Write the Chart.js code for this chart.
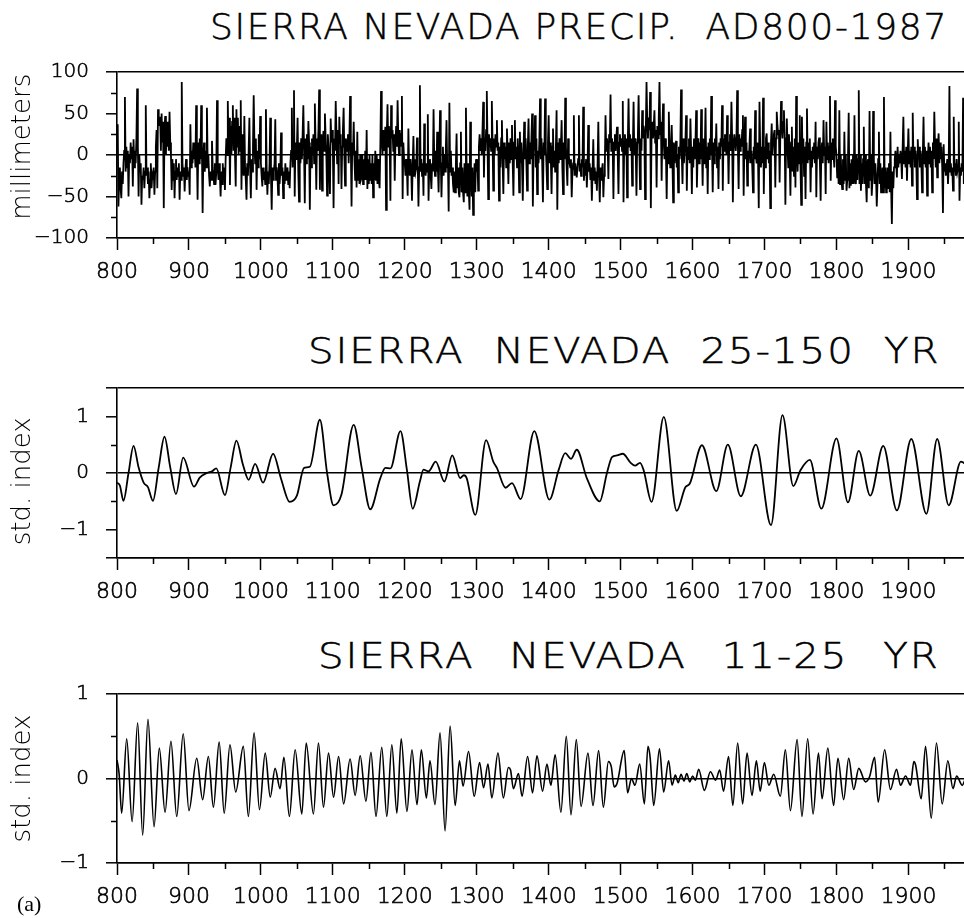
<!DOCTYPE html>
<html>
<head>
<meta charset="utf-8">
<script src="https://cdn.jsdelivr.net/npm/chart.js@4.4.1/dist/chart.umd.min.js"></script>
<style>
html, body { margin: 0; padding: 0; background: #fff; width: 964px; height: 918px; overflow: hidden; }
canvas { position: absolute; left: 0; }
.ttl { position: absolute; font-family: "DejaVu Sans", sans-serif; font-weight: 200; font-size: 36px;
       letter-spacing: 1.7px; white-space: pre; color: #000; -webkit-text-stroke: 0.5px #000;
       transform-origin: 0 0; }
#lab { position: absolute; left: 17px; top: 891px; font-family: "Liberation Serif", serif; font-size: 22px; }
</style>
</head>
<body>
<div class="ttl" style="left:210px; top:6px;">SIERRA NEVADA PRECIP.  AD800-1987</div>
<div class="ttl" style="left:308px; top:330px; word-spacing:13px; transform:scaleX(1.12);">SIERRA NEVADA 25-150 YR</div>
<div class="ttl" style="left:318px; top:635px; word-spacing:18px; transform:scaleX(1.12);">SIERRA NEVADA 11-25 YR</div>

<canvas id="c1" width="975" height="262" style="top:40px; width:975px; height:262px;"></canvas>
<canvas id="c2" width="975" height="266" style="top:356px; width:975px; height:266px;"></canvas>
<canvas id="c3" width="975" height="265" style="top:662px; width:975px; height:265px;"></canvas>
<div id="lab">(a)</div>

<script>
/* ---------- data ---------- */

// annual precipitation departures (mm), one value per year from AD 800
var startYear = 800;
var precip = [
  25, 37, -62, -30, -15, -40, -52, -20, -35, -10,
  5, 70, -20, 10, -15, 5, -50, 0, -10, 15,
  -5, 10, -38, 19, -15, 5, -10, 20, 80, 10,
  -50, 0, -20, -10, -60, -25, -30, -15, -40, -20,
  60, -25, -15, -35, -20, -52, -30, -10, -40, -25,
  -30, -15, -48, -20, 10, 30, -40, 55, 35, 45,
  45, 5, 50, 15, 40, -64, 30, 47, 0, 40,
  10, 40, 5, 52, 15, 0, -42, -5, -30, -10,
  -52, -20, -5, -30, -15, -25, -10, -54, -20, -30,
  88, -10, -25, -15, -44, -20, -5, -30, -15, -25,
  -20, -48, 37, -15, 5, -10, 15, -5, 10, -15,
  60, 5, -54, 15, -10, 20, -5, 60, 10, -70,
  0, 15, -20, 5, -15, 57, -10, 0, -25, -38,
  -20, -30, 17, -15, -25, -35, -10, -36, -20, 66,
  -15, -30, -10, -25, -50, -20, -35, -10, -30, -15,
  -42, -5, 20, 0, 65, 10, 45, -36, 35, 0,
  40, 60, 5, 45, 0, -38, 55, 10, 45, 0,
  35, 5, 66, -42, 25, -10, -25, 47, -15, -30,
  -54, -10, -25, 5, 45, -15, -52, -5, -20, 10,
  72, 15, -10, 20, -42, 5, -15, 25, -5, 47,
  -10, -25, -38, -15, -30, -20, -35, 55, -15, -48,
  -20, -35, -10, 45, -25, -66, -15, -30, -20, -10,
  43, -30, -15, -25, -48, -10, -35, -20, 27, -25,
  -15, -52, -20, -35, -10, -30, -25, -15, -35, -20,
  -40, -10, 5, 57, -15, 10, 78, -50, 15, -5,
  10, 45, -20, -56, 15, -10, 20, -5, 25, 60,
  5, -58, 20, -10, 25, -5, 41, 15, -66, 10,
  -15, 20, 0, 25, -10, 62, 15, -42, 20, 5,
  30, 79, -42, 10, 25, -43, 15, 29, 5, 50,
  20, 0, -49, 25, 10, -15, -47, 44, 15, 30,
  10, -64, 20, 5, 65, 25, -10, 30, -35, 46,
  15, 25, -41, 10, 30, 57, 0, -37, 20, 15,
  5, 25, -10, 20, 71, 10, -62, 15, 0, 40,
  -5, -30, 5, -39, 28, -30, -5, -35, 0, -30,
  -27, 0, -35, -5, -30, 5, -30, 30, -41, -5,
  -35, 0, -30, -10, -35, 0, -51, -10, -30, 5,
  -30, 0, -35, -5, -30, -40, 10, 77, 20, 0,
  30, 5, 20, 34, -66, 25, 61, 10, 35, 15,
  -55, 60, 20, 30, 5, 25, -31, 15, 35, 10,
  66, 20, 0, 30, 10, 25, 71, -53, 15, -5,
  -10, -25, -5, -20, -49, 32, -15, -25, -5, -20,
  -55, -10, 23, -25, -5, -20, -15, 21, -10, -62,
  -15, 84, -20, -5, -25, -10, -49, 38, -15, -25,
  -10, -20, 49, -55, -15, -5, -25, -41, -10, -20,
  55, -10, -25, 5, -20, 28, -15, -45, 0, 54,
  -5, -51, -10, 10, -25, 0, -20, 5, 42, -15,
  -10, -68, 63, -20, 5, -25, -15, -35, -45, -20,
  -45, -10, 26, -40, -15, -45, -51, -10, 28, -45,
  -15, -45, -57, -10, -45, 57, -20, -50, -10, -45,
  -66, 40, -20, -50, -15, -72, -45, -10, -45, -5,
  -20, -5, -43, 10, 25, 5, 20, 0, 30, 64,
  -27, 20, 5, 30, 77, 15, -53, 25, 10, 20,
  5, 65, 15, -43, 20, 0, 25, 10, 42, 5,
  15, -55, 10, -15, 20, 42, -10, -47, 15, -5,
  10, -15, 32, 0, -35, 15, -10, 20, -5, 36,
  -10, -49, 15, 42, -5, 10, -15, 20, 0, -45,
  28, -10, 15, -15, -55, 5, 40, -5, 20, -10,
  -43, 10, 44, -10, 15, -5, 20, 50, -62, 5,
  10, 48, -15, 20, -47, 5, -10, 15, 68, -5,
  20, -10, -57, 15, 0, 68, 10, -15, -41, 15,
  48, -10, 15, -5, -47, 10, 32, -15, 5, -20,
  10, 54, -66, 15, -10, 20, -5, 10, 42, -15,
  -47, 15, -5, 69, 10, -15, -37, 20, 0, -10,
  -15, -5, -51, -20, -10, 48, -25, -10, -20, -27,
  -15, -5, 48, -20, -10, -25, -5, -15, 58, -31,
  -10, -25, -5, -39, -15, 36, -20, -10, -30, -15,
  -55, -20, 19, -30, -15, -35, -20, -43, -10, 40,
  -25, -57, -15, -30, -20, -10, -51, -25, -15, 48,
  5, 20, 10, -29, 25, 15, 73, 5, 20, 10,
  -53, 15, 25, 5, 20, 34, 0, -47, 15, 25,
  10, 20, 5, 65, -57, 15, 25, 0, 20, -51,
  15, 68, 10, 25, 5, 20, -37, 10, 64, 0,
  20, 5, -49, 15, 25, 72, 10, -41, 20, 5,
  54, 20, 35, 25, -53, 30, 88, 40, 20, 45,
  30, 76, -64, 25, 40, 20, 35, 54, 15, 30,
  -39, 35, 20, 45, 88, 25, 40, -31, 30, 62,
  15, -5, 20, 0, -53, 10, -10, 52, 5, -15,
  10, 36, -5, -57, 15, -10, 5, 17, -15, 0,
  -45, 10, -5, 15, 79, 0, -35, 20, -10, 5,
  15, 48, -43, 10, -5, 20, -10, 44, 5, -47,
  10, -15, 20, -5, 15, 54, -39, 0, 20, -10,
  15, -5, 55, 10, -37, 20, -10, 5, 57, -15,
  10, -47, 15, -5, 20, 0, 71, 10, -45, 15,
  -10, 20, 5, 38, -15, 10, -41, 15, -5, 20,
  10, 60, -43, 20, 5, 25, 15, 0, 48, 20,
  -35, 15, 25, 5, 64, 20, -57, 10, 25, 15,
  5, 20, 78, 10, -41, 25, 5, 20, 10, 30,
  48, -49, 10, 46, -5, 15, -37, 5, -10, 10,
  32, -10, 5, -15, -45, 10, -5, 54, 0, -10,
  15, -5, -64, 64, 10, -15, 5, -10, 69, -47,
  10, -15, 20, 26, -5, 15, -10, 5, -64, 15,
  38, 0, 15, 25, 30, -39, 20, 52, 35, 25,
  30, -33, 25, 65, 35, 20, 40, 54, 25, -60,
  20, 44, 10, -15, 25, -5, -49, 15, 34, -20,
  10, -25, 20, -39, 71, 5, -20, 15, -10, 48,
  -15, -60, 46, -10, 20, -25, 10, -53, 15, 56,
  -10, 15, -5, 20, -45, 5, -15, 10, -5, 15,
  -10, 40, -51, 10, -5, 15, 21, -10, -55, 5,
  15, -10, 42, 0, 10, -47, 40, -5, 15, -10,
  10, 71, -31, 15, -5, 20, 0, -15, 66, 10,
  0, -27, -5, -35, 54, -35, 0, -30, -41, -5,
  -35, 28, -30, 0, -43, -30, -5, 51, -40, -10,
  -37, -5, -35, 0, -35, 48, -30, -35, 0, -30,
  -5, 78, -35, 0, -43, -10, -35, -5, 34, -35,
  0, -35, -57, -10, -5, -40, 53, -30, 0, -49,
  -30, 53, -5, -35, -10, -25, -62, -35, -5, 28,
  -35, -10, -45, -27, -15, -45, 70, -40, -15, -45,
  -37, -15, -40, -10, -45, 28, -40, -83, -20, -40,
  -15, -5, 5, -10, -27, 10, -15, 0, -10, 5,
  -5, -29, 10, 46, -10, 5, -15, 10, -31, 0,
  32, -10, 5, -15, 10, -37, 51, -5, 10, -15,
  5, -10, -53, 19, -5, 10, -15, 5, -10, -45,
  0, 46, -10, 10, -15, 5, -49, -5, 15, -10,
  10, -15, 5, -45, 15, -5, 52, 10, -15, 20,
  -27, 10, 26, -10, 15, -5, 10, -15, -70, 13,
  -20, -10, -25, -15, -5, -35, -15, 83, -20, -10,
  -25, -15, -43, 46, -20, -10, -25, -5, -20, -15,
  40, -55, -15, -25, -10, -20, 69, -35, -15, 25,
  -10, -20, 15, -5, -25, 10, -15, 5
];

// 25-150 yr band (std. index): turning points
var lowYears = [800, 804, 809, 816, 823, 830, 837, 843, 850, 858, 866, 874, 882, 892, 907, 915, 925, 932, 938, 950,
  958, 966, 975, 983, 992, 1003, 1017, 1028, 1040, 1050, 1060, 1068, 1082, 1092, 1101, 1112, 1129, 1140, 1152, 1166,
  1173, 1180, 1194, 1203, 1211, 1221, 1226, 1233, 1243, 1255, 1266, 1277, 1282, 1286, 1298, 1313, 1323, 1328, 1340, 1349,
  1361, 1380, 1401, 1414, 1423, 1431, 1439, 1453, 1471, 1481, 1488, 1495, 1503, 1514, 1520, 1527, 1532, 1543, 1560, 1578,
  1590, 1596, 1613, 1633, 1649, 1667, 1688, 1709, 1725, 1740, 1750, 1763, 1779, 1800, 1816, 1831, 1847, 1865, 1884, 1904,
  1925, 1940, 1956, 1973, 1980, 1987];
var lowVals = [-0.17, -0.22, -0.49, 0.0, 0.48, 0.1, -0.17, -0.25, -0.49, 0.1, 0.64, 0.1, -0.37, 0.27, -0.24, -0.08, 0.0, 0.03, 0.08, -0.39,
  0.1, 0.57, 0.15, -0.12, 0.16, -0.17, 0.34, -0.1, -0.51, -0.4, 0.09, 0.11, 0.94, 0.0, -0.57, -0.38, 0.85, 0.1, -0.64, -0.09,
  0.09, 0.08, 0.74, 0.05, -0.63, -0.15, 0.06, 0.03, 0.2, -0.15, 0.31, -0.09, -0.04, -0.09, -0.74, 0.58, 0.2, 0.09, -0.26, -0.18,
  -0.46, 0.74, -0.47, 0.06, 0.35, 0.25, 0.41, -0.09, -0.5, 0.0, 0.28, 0.31, 0.34, 0.18, 0.13, 0.18, 0.05, -0.51, 0.99, -0.67,
  -0.25, -0.19, 0.49, -0.32, 0.5, -0.41, 0.5, -0.92, 1.02, -0.23, 0.05, 0.23, -0.63, 0.61, -0.52, 0.39, -0.4, 0.48, -0.66, 0.6,
  -0.72, 0.6, -0.57, 0.2, 0.15, 0.05];

// 11-25 yr band (std. index): peaks and troughs
var highYears = [800, 803, 806.5, 813.5, 821, 828.7, 835.7, 843, 851.5, 858.8, 866.8, 875, 883, 892, 900, 910.8, 919, 927, 934, 942,
  949, 957, 965, 975.6, 982.6, 990.5, 998, 1006, 1013, 1019.7, 1026.7, 1032, 1039.6, 1047.6, 1056.9, 1063, 1073, 1080, 1087, 1094,
  1101, 1108, 1115, 1124, 1131, 1138, 1146, 1153, 1160, 1168, 1175, 1182, 1189, 1195, 1203, 1210, 1217, 1223, 1230, 1235,
  1242, 1249, 1256, 1263, 1270, 1276, 1281, 1288.6, 1296.5, 1304, 1309.5, 1315.6, 1321, 1329.5, 1337, 1344, 1347, 1351, 1358, 1363,
  1370.7, 1377.6, 1383.7, 1391.5, 1397.6, 1403, 1409, 1417, 1424.5, 1431, 1438.4, 1445, 1454.6, 1461.6, 1469.4, 1476, 1483, 1487, 1491, 1495,
  1505, 1509.7, 1515, 1520, 1526.5, 1533, 1538, 1541, 1546, 1554, 1559.8, 1566.7, 1571.5, 1576, 1580, 1584, 1588, 1592, 1596, 1600,
  1604, 1608.5, 1616.4, 1624.8, 1632, 1637.7, 1643, 1650, 1656, 1662.7, 1669.6, 1675.7, 1682.6, 1688.7, 1694, 1699.8, 1706, 1712.8, 1722, 1729,
  1736, 1745.3, 1752, 1760, 1767.5, 1775, 1780, 1788, 1796, 1802, 1810, 1817, 1824, 1831, 1840.3, 1846, 1853, 1858, 1867, 1875,
  1883.5, 1889, 1896, 1903, 1907.5, 1910, 1917.8, 1923.8, 1931.7, 1939, 1947, 1954.8, 1962, 1967, 1974.8, 1981, 1987];
var highVals = [0.22, 0.05, -0.41, 0.47, -0.51, 0.66, -0.67, 0.7, -0.57, 0.36, -0.4, 0.44, -0.45, 0.53, -0.38, 0.24, -0.25, 0.26, -0.34, 0.43,
  -0.41, 0.4, -0.16, 0.38, -0.45, 0.54, -0.37, 0.3, -0.22, 0.12, -0.12, 0.25, -0.45, 0.34, -0.42, 0.42, -0.42, 0.42, -0.34, 0.3,
  -0.22, 0.26, -0.3, 0.23, -0.2, 0.27, -0.27, 0.31, -0.45, 0.37, -0.45, 0.4, -0.41, 0.47, -0.39, 0.34, -0.31, 0.34, -0.23, 0.21,
  -0.31, 0.54, -0.62, 0.62, -0.32, 0.21, -0.09, 0.32, -0.21, 0.19, -0.11, 0.17, -0.23, 0.3, -0.23, 0.13, 0.1, -0.12, 0.06, -0.21,
  0.26, -0.17, 0.27, -0.15, 0.17, -0.08, 0.28, -0.4, 0.5, -0.43, 0.46, -0.33, 0.3, -0.32, 0.33, -0.34, 0.2, 0.14, -0.1, -0.06,
  0.33, -0.17, 0.0, -0.08, 0.17, -0.3, 0.38, 0.25, -0.32, 0.35, -0.16, 0.21, -0.08, 0.04, -0.05, 0.05, -0.03, 0.06, -0.04, 0.03,
  -0.02, 0.11, -0.14, 0.08, -0.02, 0.1, -0.15, 0.26, -0.32, 0.42, -0.3, 0.3, -0.2, 0.21, -0.15, 0.19, -0.08, 0.05, -0.21, 0.34,
  -0.38, 0.46, -0.45, 0.47, -0.42, 0.3, -0.24, 0.36, -0.32, 0.24, -0.25, 0.24, -0.13, 0.12, -0.04, 0.02, 0.25, -0.28, 0.34, -0.13,
  0.11, -0.08, 0.03, -0.08, 0.2, 0.16, -0.24, 0.38, -0.47, 0.42, -0.3, 0.21, -0.12, 0.03, -0.08, 0.02, -0.05];

// axes
var xTickYears = [800, 900, 1000, 1100, 1200, 1300, 1400, 1500, 1600, 1700, 1800, 1900];
var xMinorYears = [850, 950, 1050, 1150, 1250, 1350, 1450, 1550, 1650, 1750, 1850, 1950];
var p1YTicks = [-100, -50, 0, 50, 100];
var p1YMinor = [-75, -25, 25, 75];
var p2YTicks = [-1.5, -1, 0, 1, 1.5];
var p2YLabels = [-1, 0, 1];
var p2YMinor = [-0.5, 0.5];
var p3YTicks = [-1, 0, 1];
var p3YMinor = [-0.5, 0.5];

/* ---------- drawing ---------- */

// short ticks at the 50-year and half-step marks
var minorTicks = {
  id: 'minorTicks',
  afterDraw: function(chart, args, opts) {
    var ctx = chart.ctx, x = chart.scales.x, y = chart.scales.y;
    ctx.save();
    ctx.strokeStyle = '#000';
    ctx.lineWidth = 1.5;
    ctx.beginPath();
    (opts.x || []).forEach(function(v) {
      var px = Math.round(x.getPixelForValue(v)) + 0.5;
      ctx.moveTo(px, y.bottom); ctx.lineTo(px, y.bottom + 6);
    });
    (opts.y || []).forEach(function(v) {
      var py = Math.round(y.getPixelForValue(v)) + 0.5;
      ctx.moveTo(x.left, py); ctx.lineTo(x.left - 6, py);
    });
    ctx.stroke();
    ctx.restore();
  }
};

function fmt(v) {
  return String(v).replace('-', '\u2212');
}

var xTickFont = { family: 'DejaVu Sans', size: 22, weight: '200' };
var yTickFont = { family: 'DejaVu Sans', size: 20, weight: '200' };
var titleFont = { family: 'DejaVu Sans', size: 26, weight: '200' };
var nb = '\u00a0';

function makePanel(id, points, lineWidth, cubic, yMin, yMax, yTicks, yLabels, yMinor, frameVals, yTitle, plotH) {
  var cv = document.getElementById(id);
  var padTop = 32;
  return new Chart(cv, {
    type: 'line',
    data: {
      datasets: [{
        data: points,
        borderColor: '#000',
        borderWidth: lineWidth,
        pointRadius: 0,
        fill: false,
        tension: 0,
        cubicInterpolationMode: cubic ? 'monotone' : 'default'
      }]
    },
    plugins: [minorTicks],
    options: {
      responsive: false,
      animation: false,
      devicePixelRatio: 1,
      layout: { padding: { top: padTop, left: 0, right: 4, bottom: 0 } },
      plugins: {
        legend: { display: false },
        tooltip: { enabled: false },
        minorTicks: { x: xMinorYears, y: yMinor }
      },
      scales: {
        x: {
          type: 'linear',
          min: 800,
          max: 1987,
          afterBuildTicks: function(a) { a.ticks = xTickYears.map(function(v) { return { value: v }; }); },
          afterFit: function(s) { s.height = cv.height - padTop - plotH; },
          grid: { drawOnChartArea: false, tickLength: 12, tickColor: '#000', tickWidth: 1.5 },
          border: { color: '#000', width: 1.6 },
          ticks: { color: '#000', font: xTickFont, padding: 9, maxRotation: 0, autoSkip: false,
                   textStrokeColor: '#000', textStrokeWidth: 0.6,
                   callback: function(v) { return String(v); } }
        },
        y: {
          min: yMin,
          max: yMax,
          afterBuildTicks: function(a) { a.ticks = yTicks.map(function(v) { return { value: v }; }); },
          afterFit: function(s) { s.width = 117; },
          grid: {
            color: function(c) { return frameVals.indexOf(c.tick.value) >= 0 ? '#000' : 'rgba(0,0,0,0)'; },
            lineWidth: 1.6, tickLength: 11, tickColor: '#000', tickWidth: 1.5
          },
          border: { color: '#000', width: 1.6 },
          ticks: { color: '#000', font: yTickFont, padding: 17,
                   textStrokeColor: '#000', textStrokeWidth: 0.6,
                   callback: function(v) { return yLabels.indexOf(v) >= 0 ? fmt(v) : ''; } },
          title: { display: true, text: yTitle, color: '#000', font: titleFont, padding: { top: 8, bottom: 0 } }
        }
      }
    }
  });
}

var p1 = precip.map(function(v, i) { return { x: startYear + i, y: v }; });
var p2 = lowYears.map(function(yr, i) { return { x: yr, y: lowVals[i] }; });
var p3 = highYears.map(function(yr, i) { return { x: yr, y: highVals[i] }; });

makePanel('c1', p1, 1.8, false, -100, 100, p1YTicks, p1YTicks, p1YMinor, [-100, 0, 100], nb + nb + 'millimeters', 166);
makePanel('c2', p2, 1.8, true, -1.5, 1.5, p2YTicks, p2YLabels, p2YMinor, [-1.5, 0, 1.5], 'std. index' + nb + nb, 170);
makePanel('c3', p3, 1.6, true, -1, 1, p3YTicks, p3YTicks, p3YMinor, [-1, 0, 1], 'std. index', 169);
</script>
</body>
</html>
